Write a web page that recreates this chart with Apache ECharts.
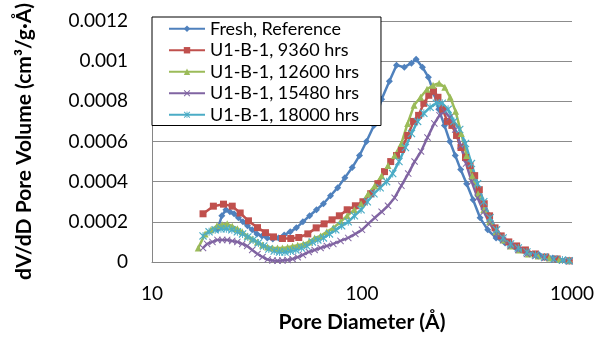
<!DOCTYPE html>
<html>
<head>
<meta charset="utf-8">
<script src="https://cdn.jsdelivr.net/npm/echarts@6/dist/echarts.min.js"></script>
<style>
html, body { margin: 0; padding: 0; background: #fff; }
#chart { width: 603px; height: 338px; }
</style>
</head>
<body>
<div id="chart"></div>
<script>
// pore diameter (Å) and dV/dD (cm³/g·Å) per sample
const freshD = [20.5, 21.5, 22.5, 23.5, 24.6, 25.8, 27.1, 28.5, 30, 31.6, 33.4, 35.4, 37.6, 40, 42.6, 45.5, 48.7, 52.3, 56.3, 60.7, 65.5, 70.8, 76.6, 82.9, 89.8, 97.3, 105, 114, 124, 135, 146, 159, 172, 181, 194, 207, 220, 232, 247, 262, 278, 295, 315, 338, 365, 397, 435, 480, 540, 610, 700, 810, 970];
const freshV = [0.00016, 0.00023, 0.00026, 0.00025, 0.00024, 0.00022, 0.0002, 0.00018, 0.00016, 0.00014, 0.00013, 0.00012, 0.000115, 0.00012, 0.000135, 0.00015, 0.00017, 0.0002, 0.00023, 0.00026, 0.00029, 0.00033, 0.00037, 0.00042, 0.00047, 0.00053, 0.0006, 0.00068, 0.00081, 0.0009, 0.00098, 0.00097, 0.00099, 0.00101, 0.00097, 0.00092, 0.00084, 0.00076, 0.00068, 0.0006, 0.00053, 0.00046, 0.00039, 0.00031, 0.00022, 0.00016, 0.00012, 0.000095, 0.00007, 0.00005, 0.000035, 0.00002, 0.000007];

const h9360D = [17.5, 19.6, 21.9, 24.1, 26.3, 28.8, 31.8, 34.7, 37.9, 41.8, 45.8, 50, 55.2, 60.5, 66, 72, 78, 85, 93, 101, 110, 119, 128, 137, 146, 154, 165, 176, 186, 197, 208, 219, 230, 242, 255, 268, 282, 296, 311, 327, 344, 362, 382, 405, 430, 460, 500, 545, 600, 670, 750, 850, 970];
const h9360V = [0.00024, 0.000278, 0.000288, 0.000278, 0.000244, 0.000205, 0.000171, 0.000146, 0.000125, 0.000117, 0.000117, 0.000122, 0.00014, 0.00017, 0.00019, 0.00021, 0.00023, 0.00026, 0.00028, 0.0003, 0.00034, 0.00039, 0.00045, 0.0005, 0.00053, 0.00056, 0.00063, 0.0007, 0.00073, 0.00079, 0.00083, 0.00085, 0.00082, 0.00076, 0.0007, 0.00068, 0.00063, 0.00057, 0.00052, 0.00048, 0.00043, 0.00036, 0.00029, 0.00023, 0.00017, 0.00013, 0.0001, 0.00008, 0.00006, 0.00004, 0.000025, 0.000015, 0.000006];

const h12600D = [16.6, 17.9, 19.1, 20.4, 21.6, 22.8, 24.1, 25.5, 26.9, 28.4, 30, 31.8, 33.6, 35.5, 37.5, 39.6, 41.8, 44.2, 46.7, 49.4, 52.5, 55.8, 59.5, 63.5, 68, 73, 79, 85, 92, 99, 107, 115, 124, 133, 143, 154, 165, 177, 190, 204, 218, 233, 248, 263, 279, 297, 315, 335, 357, 380, 405, 435, 470, 510, 560, 620, 690, 780, 870, 970];
const h12600V = [0.00007, 0.00014, 0.00016, 0.00018, 0.000185, 0.00019, 0.000178, 0.000166, 0.00015, 0.00013, 0.000115, 0.0001, 0.000085, 0.000075, 0.00007, 0.00007, 0.00007, 0.000073, 0.000078, 0.000083, 0.00009, 0.0001, 0.00012, 0.00013, 0.00015, 0.00017, 0.0002, 0.00023, 0.00026, 0.00029, 0.00034, 0.00038, 0.00043, 0.00048, 0.00053, 0.00059, 0.00069, 0.00078, 0.00082, 0.00086, 0.00088, 0.00089, 0.00087, 0.00082, 0.00075, 0.00064, 0.00053, 0.00043, 0.00034, 0.00026, 0.0002, 0.00015, 0.00011, 0.00008, 0.00006, 0.00004, 0.00003, 0.00002, 0.000012, 0.000008];

const h15480D = [17.5, 18.3, 19.4, 20.5, 21.6, 22.8, 24.1, 25.5, 26.9, 28.4, 30, 31.8, 33.6, 35.5, 37.5, 39.6, 41.8, 44.2, 46.7, 49.4, 52.3, 55.8, 59.5, 63.5, 68, 73, 79, 86, 93, 100, 107, 115, 124, 133, 143, 154, 166, 178, 191, 205, 221, 234, 247, 262, 278, 295, 313, 333, 355, 380, 407, 437, 470, 510, 555, 610, 670, 740, 820, 900, 970];
const h15480V = [0.00007, 0.00009, 0.0001, 0.00011, 0.00011, 0.00011, 0.000105, 0.0001, 0.00009, 0.00008, 0.00006, 0.00004, 0.000025, 0.000012, 0.000008, 0.000006, 0.000008, 0.00001, 0.000015, 0.000024, 0.000035, 0.00005, 0.00006, 0.00007, 0.00008, 0.00009, 0.000105, 0.00012, 0.00014, 0.00016, 0.00019, 0.00022, 0.00025, 0.00028, 0.00032, 0.00038, 0.00044, 0.0005, 0.00055, 0.00062, 0.00069, 0.00073, 0.00075, 0.00072, 0.00066, 0.00058, 0.00049, 0.0004, 0.00032, 0.00025, 0.00019, 0.00014, 0.00011, 0.00008, 0.00006, 0.00004, 0.00003, 0.00002, 0.000012, 0.000008, 0.000004];

const h18000D = [17.5, 18.7, 20, 21.3, 22.6, 24, 25.5, 27, 28.6, 30.3, 32.1, 34, 36, 38.2, 40.5, 43, 45.6, 48.4, 51.4, 54.6, 58, 61.6, 65.5, 70, 75, 80, 86, 92, 99, 106, 114, 122, 131, 140, 150, 161, 172, 184, 197, 211, 226, 241, 257, 274, 292, 311, 332, 355, 380, 407, 437, 470, 510, 555, 610, 670, 740, 820, 900, 970];
const h18000V = [0.00013, 0.00015, 0.00016, 0.000165, 0.000165, 0.00016, 0.00015, 0.00014, 0.000125, 0.00011, 0.000095, 0.00008, 0.000065, 0.000055, 0.00005, 0.00005, 0.000055, 0.00006, 0.00007, 0.00008, 0.0001, 0.00011, 0.00012, 0.00014, 0.00016, 0.00018, 0.0002, 0.00023, 0.00026, 0.0003, 0.00034, 0.00037, 0.0004, 0.00044, 0.0005, 0.00057, 0.00064, 0.0007, 0.00074, 0.00077, 0.00079, 0.00079, 0.00076, 0.0007, 0.00066, 0.00059, 0.00049, 0.00039, 0.0003, 0.00022, 0.00016, 0.00012, 0.00009, 0.00007, 0.00005, 0.000035, 0.000025, 0.000015, 0.00001, 0.000006];

const seriesNames = ['Fresh, Reference', 'U1-B-1, 9360 hrs', 'U1-B-1, 12600 hrs', 'U1-B-1, 15480 hrs', 'U1-B-1, 18000 hrs'];
const colors = ['#4F81BD', '#C0504D', '#9BBB59', '#8064A2', '#4BACC6'];

const crossPath = 'path://M0,1L1,0L5,4L9,0L10,1L6,5L10,9L9,10L5,6L1,10L0,9L4,5Z';
const starPath = 'path://M0,1L1,0L5,4L9,0L10,1L6,5L10,9L9,10L5,6L1,10L0,9L4,5Z M4.4,0L5.6,0L5.6,10L4.4,10Z';
const symbols = ['diamond', 'rect', 'triangle', crossPath, starPath];
const symbolSizes = [7, 7, 7, 7, 8];

const pair = (d, v) => d.map((x, i) => [x, v[i]]);
const allData = [
    pair(freshD, freshV),
    pair(h9360D, h9360V),
    pair(h12600D, h12600V),
    pair(h15480D, h15480V),
    pair(h18000D, h18000V)
];

const font = 'Lato, "Open Sans", sans-serif';

const chart = echarts.init(document.getElementById('chart'));
chart.setOption({
    animation: false,
    color: colors,
    grid: { left: 152, right: 31, top: 16, bottom: 76 },
    legend: {
        orient: 'vertical',
        left: 152,
        top: 17,
        backgroundColor: '#fff',
        borderColor: '#000',
        borderWidth: 1,
        padding: [1, 22, 0, 16],
        itemGap: 0,
        itemWidth: 36,
        itemHeight: 8,
        textStyle: { fontFamily: font, fontSize: 18, color: '#000', lineHeight: 21.5 },
        data: seriesNames
    },
    xAxis: {
        type: 'log',
        logBase: 10,
        min: 10,
        max: 1000,
        name: 'Pore Diameter (Å)',
        nameLocation: 'middle',
        nameGap: 50,
        nameTextStyle: { fontFamily: font, fontWeight: 'bold', fontSize: 21, color: '#000' },
        axisLine: { lineStyle: { color: '#868686', width: 1 } },
        axisTick: { show: false },
        minorTick: { show: false },
        splitLine: { show: false },
        axisLabel: {
            margin: 22,
            fontFamily: font,
            fontSize: 19,
            color: '#000',
            formatter: v => String(Math.round(v))
        }
    },
    yAxis: {
        type: 'value',
        min: 0,
        max: 0.0012,
        interval: 0.0002,
        name: 'dV/dD Pore Volume (cm³/g·Å)',
        nameLocation: 'middle',
        nameRotate: 90,
        nameGap: 117,
        nameTextStyle: { fontFamily: font, fontWeight: 'bold', fontSize: 21, color: '#000' },
        axisLine: { show: true, lineStyle: { color: '#868686', width: 1 } },
        axisTick: { show: false },
        splitLine: { lineStyle: { color: '#8c8c8c', width: 1 } },
        axisLabel: {
            margin: 24,
            fontFamily: font,
            fontSize: 19,
            color: '#000',
            formatter: v => String(+v.toFixed(4))
        }
    },
    series: allData.map((data, i) => ({
        name: seriesNames[i],
        type: 'line',
        data: data,
        symbol: symbols[i],
        symbolSize: symbolSizes[i],
        showAllSymbol: true,
        lineStyle: { width: 2.5, color: colors[i] },
        itemStyle: { color: colors[i] }
    }))
});
</script>
</body>
</html>
